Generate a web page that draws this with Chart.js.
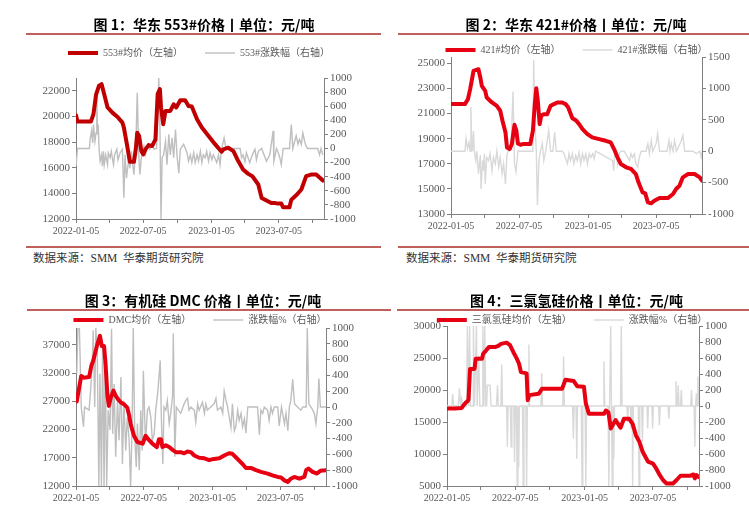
<!DOCTYPE html>
<html>
<head>
<meta charset="utf-8">
<script src="https://cdn.jsdelivr.net/npm/chart.js@4"></script>
<style>
  body { margin: 0; width: 749px; height: 523px; background: #fff; position: relative; overflow: hidden; }
  canvas { position: absolute; }
  .title { position: absolute; text-align: center; font: bold 14px "Noto Sans CJK SC", sans-serif; line-height: 16px; color: #000; white-space: nowrap; }
  .rule { position: absolute; height: 2px; background: #c0605d; }
  .src { position: absolute; font: 11.5px "Liberation Serif", "Noto Sans CJK SC", serif; line-height: 14px; color: #333; white-space: nowrap; }
</style>
</head>
<body>
<canvas id="c1" width="355" height="217" style="left:26px;top:26px"></canvas>
<canvas id="c2" width="351" height="215" style="left:398px;top:23px"></canvas>
<canvas id="c3" width="348" height="217" style="left:26px;top:293px"></canvas>
<canvas id="c4" width="354" height="217" style="left:395px;top:293px"></canvas>

<div class="title" style="left:26px;width:356px;top:16px">图 1：华东 553#价格丨单位：元/吨</div>
<div class="title" style="left:402px;width:348px;top:16px">图 2：华东 421#价格丨单位：元/吨</div>
<div class="title" style="left:26px;width:354px;top:292px">图 3：有机硅 DMC 价格丨单位：元/吨</div>
<div class="title" style="left:404px;width:345px;top:292px">图 4：三氯氢硅价格丨单位：元/吨</div>

<div class="rule" style="left:26px;width:355px;top:33px"></div>
<div class="rule" style="left:398px;width:351px;top:33px"></div>
<div class="rule" style="left:26px;width:355px;top:246px"></div>
<div class="rule" style="left:398px;width:351px;top:246px"></div>
<div class="rule" style="left:27px;width:364px;top:309px"></div>
<div class="rule" style="left:397px;width:352px;top:309px"></div>

<div class="src" style="left:33px;top:251px">数据来源：SMM&nbsp;&nbsp;华泰期货研究院</div>
<div class="src" style="left:406px;top:251px">数据来源：SMM&nbsp;&nbsp;华泰期货研究院</div>

<script>
// x 轴：距 2022-01-05 的天数
const tickDays = [0, 90, 181, 273, 365, 455, 546, 638];
const tickLabels = ['2022-01-05', '', '2022-07-05', '', '2023-01-05', '', '2023-07-05', ''];
const lastDay = 668;

// 图1 华东553#
const p1PriceDays = [0,4,40,47,54,62,69,76,85,98,112,125,129,138,145,156,161,165,170,176,181,187,196,205,214,220,226,229,235,241,254,263,270,281,294,303,312,326,339,357,375,392,397,410,424,437,450,464,475,491,500,513,526,535,544,553,558,575,580,593,607,620,633,647,665];
const p1Price = [20100,19600,19600,20170,21700,22400,22520,21740,20700,20300,19960,19520,19130,17690,16460,16460,17430,18730,18470,17300,17040,17430,17770,17690,18210,21740,22130,20700,19390,20430,20430,20950,20700,21270,21270,20820,20770,19780,19130,18470,17820,17250,17430,17560,17300,16520,15860,15520,15340,14690,13640,13440,13250,13250,13200,13200,12910,12910,13510,13850,14300,15340,15470,15470,15000];
const p1ChgDays = [0,4,36,38,42,45,47,51,54,56,58,60,62,65,69,71,74,76,80,85,87,92,95,101,104,110,113,119,125,129,132,136,138,143,145,149,156,161,165,169,172,176,183,187,194,199,205,210,217,223,226,229,232,236,241,245,250,254,259,263,268,272,277,281,290,299,303,308,312,317,321,326,330,335,339,343,348,352,357,361,366,370,379,384,388,392,399,404,442,446,450,455,459,468,475,482,486,491,500,513,522,531,533,540,544,549,553,558,575,580,584,589,593,598,602,607,611,616,620,624,651,656,660,665];
const p1Chg = [-250,0,0,130,250,80,340,100,220,790,200,340,0,-180,-90,-250,-40,-230,-90,-230,-60,-130,-40,-230,-90,-10,-160,-60,-10,-700,-90,-420,-320,-130,-280,-40,-370,0,790,-90,-370,-130,30,-90,60,-10,60,-10,0,1000,340,-1000,-130,-90,100,-230,200,-90,150,-130,270,-90,-350,-10,60,-60,-180,-90,-200,-60,-200,-90,-180,-40,-200,-90,-130,-40,-180,-60,-160,-90,-200,-90,-230,-10,150,0,0,-130,-90,-190,-60,-200,-90,-10,-160,-40,0,-180,-90,250,-180,0,-50,-130,-230,0,0,340,0,100,180,60,130,60,220,100,30,0,0,-90,0,-90];
const p1LeftTicks = [12000, 14000, 16000, 18000, 20000, 22000];
const p1RightTicks = [-1000, -800, -600, -400, -200, 0, 200, 400, 600, 800, 1000];

// 图2 华东421#
const p2PriceDays = [0,37,45,51,60,73,78,82,91,95,109,122,131,137,145,149,156,162,169,174,178,185,191,211,218,223,227,231,236,240,247,256,265,274,283,296,305,312,323,332,341,350,363,376,394,412,425,434,443,452,466,479,492,499,510,517,524,533,541,555,577,591,599,608,617,631,648,662,668];
const p2Price = [21750,21750,22140,22940,24400,24530,23870,23200,22800,22280,21880,21610,21220,20420,19490,18300,18170,18570,20100,19630,18620,18510,18570,18570,19630,21750,23020,22010,20160,20820,20950,20950,21610,21750,21880,21880,21750,21480,20630,20470,20160,19760,19360,19100,18960,18830,18700,18170,17510,16980,16720,16590,16180,15520,14720,14640,13930,13850,14060,14270,14270,14590,14990,15250,15920,16180,16180,15920,15650];
const p2ChgDays = [0,37,40,44,48,51,53,55,57,60,62,66,69,73,78,80,84,86,89,91,95,100,104,109,113,118,122,127,131,136,140,145,149,153,160,165,169,173,178,218,220,223,227,230,234,238,243,247,252,260,265,271,276,280,296,301,310,314,318,323,327,332,336,341,345,350,354,359,363,368,372,377,381,385,430,433,436,441,443,448,452,461,475,479,483,488,492,497,501,506,519,524,528,533,537,546,550,555,575,580,583,586,591,595,600,613,617,622,644,653,662,666,668];
const p2Chg = [0,0,200,40,140,0,700,150,0,320,0,-150,0,-360,-60,-600,-150,-310,-40,-520,-100,-150,-40,-310,-100,-200,0,-250,-100,-360,-200,-520,-40,0,120,950,-200,-330,0,0,1450,490,0,-860,-150,0,120,-150,0,330,0,0,300,0,0,-40,-200,-40,-150,-40,-200,-70,-150,-20,-200,-40,-150,-40,-200,-40,-100,-40,-120,0,-150,-310,0,-40,-200,-40,0,0,-150,-40,-100,-40,-200,-250,-100,0,0,120,-40,170,0,120,280,0,0,170,0,120,0,170,0,170,250,0,0,-40,0,-100,0];
const p2LeftTicks = [13000, 15000, 17000, 19000, 21000, 23000, 25000];
const p2RightTicks = [-1000, -500, 0, 500, 1000, 1500];

// 图3 有机硅DMC
const p3PriceDays = [2,14,21,35,41,46,57,64,69,75,79,84,88,93,100,106,112,120,128,137,142,146,151,155,164,178,186,193,204,216,222,227,231,240,249,258,267,280,289,298,307,316,329,343,356,369,383,396,409,418,427,436,445,454,467,481,494,512,525,539,548,557,566,574,583,597,610,615,621,632,644,653,668];
const p3Price = [27000,31500,31200,31300,33300,34200,37100,38600,36800,36800,33600,28000,26200,27700,28900,28000,27400,26800,26500,25900,24500,23000,21800,20900,19800,19500,20900,20300,19500,18900,20300,20300,18900,19200,18900,18400,18000,18000,17800,18100,18000,17400,17000,16900,16600,16800,16900,17400,17800,17700,17100,16500,15900,15200,15200,14800,14500,14200,13900,13600,13500,13000,12700,13300,13600,13300,13600,14800,15100,14500,14200,14700,14800];
const p3ChgDays = [2,5,9,11,14,20,23,35,39,44,46,50,53,57,61,64,68,71,75,78,82,86,91,95,98,102,106,111,115,120,124,128,133,137,142,146,150,153,157,161,164,169,173,177,180,184,186,191,195,200,204,209,213,219,225,228,232,235,240,244,249,253,258,260,264,268,280,289,293,298,302,307,316,320,325,329,338,343,347,351,360,369,374,378,387,392,396,401,405,414,418,423,427,432,436,441,445,450,454,459,485,490,494,499,503,512,516,521,525,530,539,543,549,557,561,566,570,574,579,584,592,601,606,615,618,622,628,637,641,646,649,653,668];
const p3Chg = [420,1000,1000,630,0,-250,0,-40,210,630,970,0,1000,630,-1000,420,-1000,800,-1000,630,-1000,-40,-290,990,-340,290,-630,80,-420,380,-720,80,-550,-130,-420,-1000,-210,1000,-380,-760,-210,-800,-40,-550,460,-210,-420,-40,0,-130,-420,-340,-40,210,590,-130,-720,0,-40,80,-210,-80,130,930,-630,0,-80,40,80,110,-40,0,-40,-190,40,-40,60,-80,40,-40,0,40,110,-40,0,-80,200,80,0,-260,40,-300,-250,-40,-170,-80,-250,-150,-330,0,0,-350,-40,-80,0,-40,-170,0,-80,0,0,-240,0,-210,-80,-300,0,80,350,40,0,-40,0,0,1000,40,0,-80,-210,0,360,0,0];
const p3LeftTicks = [12000, 17000, 22000, 27000, 32000, 37000];
const p3RightTicks = [-1000, -800, -600, -400, -200, 0, 200, 400, 600, 800, 1000];

// 图4 三氯氢硅
const p4PriceDays = [0,20,39,45,51,55,57,61,73,76,93,96,104,111,127,136,143,158,167,176,185,191,196,211,214,218,243,252,305,314,336,345,363,368,376,417,421,428,434,447,460,469,483,492,501,510,519,533,546,555,562,573,582,599,608,619,644,653,657,661,668];
const p4Price = [17100,17100,17200,17700,18100,18300,18500,23300,23300,24900,24900,25700,26200,26700,26700,26900,27200,27400,27000,25900,24900,24100,22800,22600,18400,19200,19400,20200,20200,21600,21400,20600,20500,17900,16300,16300,16800,16500,14000,15300,14100,15500,15500,14700,12900,11900,10300,8800,8500,7700,6900,5900,5400,5400,5900,6600,6600,6800,6200,6700,6400];
const p4ChgDays = [0,13,15,18,30,33,36,39,42,52,54,57,60,62,69,70,73,78,80,84,87,94,95,98,100,103,105,107,111,114,117,131,134,136,143,145,147,158,160,162,168,170,172,177,179,181,184,186,188,190,192,200,202,204,209,211,213,215,217,219,249,251,253,307,309,311,333,335,337,342,344,346,356,358,360,366,368,370,414,416,418,427,429,431,432,434,436,438,440,442,444,460,462,464,477,479,481,486,488,490,491,492,494,507,509,511,516,518,520,530,532,534,543,545,547,561,563,565,586,588,590,605,607,609,611,613,615,619,621,623,646,648,650,655,657,659,661,663,665,667];
const p4Chg = [0,0,150,0,0,220,0,90,0,0,1000,0,1000,0,0,1000,0,1000,0,630,0,0,1000,0,1000,0,0,260,260,260,0,0,260,0,0,520,0,0,-510,0,0,-510,0,0,-700,0,0,-1000,0,-770,0,0,-1000,0,0,-1000,0,0,770,0,0,410,0,0,620,0,0,-410,0,0,-660,0,0,-1000,0,0,-1000,0,0,560,0,0,-1000,0,0,1000,0,-1000,0,-660,0,0,1000,0,0,-200,0,0,-280,0,0,-1000,0,0,-1000,0,0,-450,0,0,-280,0,0,-280,0,0,-240,0,0,-160,0,0,310,0,0,260,0,0,200,0,0,200,0,0,-510,0,160,0,370,0];
const p4LeftTicks = [5000, 10000, 15000, 20000, 25000, 30000];
const p4RightTicks = [-1000, -800, -600, -400, -200, 0, 200, 400, 600, 800, 1000];

const axisColor = '#808080';
const labelColor = '#595959';
const serif = '"Liberation Serif", "Noto Sans CJK SC", serif';

function points(days, vals) {
    return days.map((d, i) => ({ x: d, y: vals[i] }));
}

function fixedTicks(values) {
    return scale => { scale.ticks = values.map(v => ({ value: v })); };
}

// 图例高度固定，便于对齐绘图区
function legendHeight(h) {
    return {
        id: 'legendHeight',
        beforeInit(chart) {
            const fit = chart.legend.fit;
            chart.legend.fit = function () {
                fit.call(this);
                this.height = h;
            };
        }
    };
}

function yAxis(pos, min, max, ticks, width) {
    return {
        type: 'linear',
        position: pos,
        min: min,
        max: max,
        afterBuildTicks: fixedTicks(ticks),
        afterFit: s => { s.width = width; },
        grid: { drawOnChartArea: false, tickLength: 4, color: axisColor },
        border: { color: axisColor },
        ticks: {
            autoSkip: false, padding: 2, color: labelColor,
            font: { family: serif, size: 11 }, callback: v => String(v)
        }
    };
}

function drawPanel(p) {
    return new Chart(document.getElementById(p.id), {
        type: 'line',
        data: {
            datasets: [{
                label: p.priceLabel,
                data: points(p.priceDays, p.price),
                borderColor: p.red,
                borderWidth: 4,
                borderJoinStyle: 'round',
                borderCapStyle: 'round',
                yAxisID: 'y'
            }, {
                label: p.chgLabel,
                data: points(p.chgDays, p.chg),
                borderColor: p.gray,
                borderWidth: 1.4,
                yAxisID: 'y1'
            }]
        },
        options: {
            responsive: false,
            animation: false,
            elements: { point: { radius: 0 }, line: { tension: 0 } },
            layout: { padding: p.pad },
            plugins: {
                legend: {
                    position: 'top',
                    labels: {
                        usePointStyle: true,
                        pointStyle: 'line',
                        pointStyleWidth: 30,
                        padding: 22,
                        color: labelColor,
                        font: { family: serif, size: 10 }
                    }
                },
                tooltip: { enabled: false }
            },
            scales: {
                x: {
                    type: 'linear',
                    min: 0,
                    max: lastDay,
                    afterBuildTicks: fixedTicks(tickDays),
                    afterFit: s => { s.height = 24; },
                    grid: { drawOnChartArea: false, tickLength: 4, color: axisColor },
                    border: { color: axisColor },
                    ticks: {
                        autoSkip: false, maxRotation: 0, minRotation: 0, padding: 2,
                        color: labelColor, font: { family: serif, size: 10 },
                        callback: (v, i) => tickLabels[i]
                    }
                },
                y: yAxis('left', p.leftMin, p.leftMax, p.leftTicks, p.leftW),
                y1: yAxis('right', p.rightMin, p.rightMax, p.rightTicks, p.rightW)
            }
        },
        plugins: [legendHeight(p.legendH)]
    });
}

drawPanel({
    id: 'c1', priceLabel: '553#均价（左轴）', chgLabel: '553#涨跌幅（右轴）',
    priceDays: p1PriceDays, price: p1Price, chgDays: p1ChgDays, chg: p1Chg,
    red: '#c00000', gray: '#bfbfbf',
    leftMin: 12000, leftMax: 23000, leftTicks: p1LeftTicks,
    rightMin: -1000, rightMax: 1000, rightTicks: p1RightTicks,
    leftW: 50, rightW: 48, legendH: 52, pad: { right: 9 }
});

drawPanel({
    id: 'c2', priceLabel: '421#均价（左轴）', chgLabel: '421#涨跌幅（右轴）',
    priceDays: p2PriceDays, price: p2Price, chgDays: p2ChgDays, chg: p2Chg,
    red: '#e60012', gray: '#d9d9d9',
    leftMin: 13000, leftMax: 25500, leftTicks: p2LeftTicks,
    rightMin: -1000, rightMax: 1500, rightTicks: p2RightTicks,
    leftW: 47, rightW: 47, legendH: 34, pad: { left: 6 }
});

drawPanel({
    id: 'c3', priceLabel: 'DMC均价（左轴）', chgLabel: '涨跌幅%（右轴）',
    priceDays: p3PriceDays, price: p3Price, chgDays: p3ChgDays, chg: p3Chg,
    red: '#e60012', gray: '#bfbfbf',
    leftMin: 12000, leftMax: 40000, leftTicks: p3LeftTicks,
    rightMin: -1000, rightMax: 1000, rightTicks: p3RightTicks,
    leftW: 50, rightW: 48, legendH: 35, pad: 0
});

drawPanel({
    id: 'c4', priceLabel: '三氯氢硅均价（左轴）', chgLabel: '涨跌幅%（右轴）',
    priceDays: p4PriceDays, price: p4Price, chgDays: p4ChgDays, chg: p4Chg,
    red: '#e60012', gray: '#d9d9d9',
    leftMin: 5000, leftMax: 30000, leftTicks: p4LeftTicks,
    rightMin: -1000, rightMax: 1000, rightTicks: p4RightTicks,
    leftW: 52, rightW: 50, legendH: 33, pad: 0
});
</script>
</body>
</html>
